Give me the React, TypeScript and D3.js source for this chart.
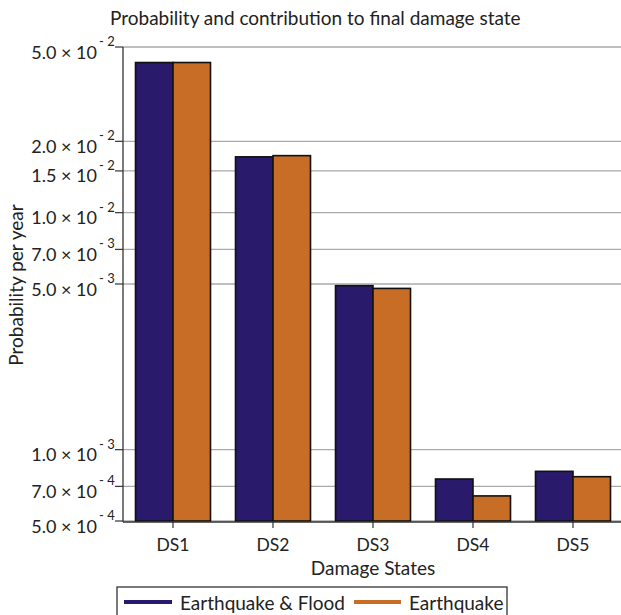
import React from "react";
import * as d3 from "d3";

const categories = ["DS1", "DS2", "DS3", "DS4", "DS5"];
const seriesNames = ["Earthquake & Flood", "Earthquake"];
const quakeFlood = [4.3e-2, 1.72e-2, 4.92e-3, 7.52e-4, 8.1e-4];
const quakeOnly = [4.3e-2, 1.74e-2, 4.79e-3, 6.38e-4, 7.69e-4];
const tickValues = [5e-2, 2e-2, 1.5e-2, 1e-2, 7e-3, 5e-3, 1e-3, 7e-4, 5e-4];

const W = 621;
const H = 615;
const FONT = "Lato, 'Open Sans', sans-serif";
const TEXT = "#222";
const COLORS = ["#291a6b", "#c76d26"];

const left = 123;
const right = 623;
const top = 47;
const bottom = 521;

function splitTick(v: number) {
  const exp = Math.floor(Math.log10(v) + 1e-9);
  const mant = v / Math.pow(10, exp);
  return { mant: mant.toFixed(1), exp: String(exp) };
}

export default function App() {
  const x = d3.scaleBand<string>().domain(categories).range([left, right]);
  const inner = d3
    .scaleBand<number>()
    .domain([0, 1])
    .range([0, x.bandwidth()])
    .paddingOuter(1 / 3);
  const y = d3.scaleLog().domain([5e-4, 5e-2]).range([bottom, top]);
  const series = [quakeFlood, quakeOnly];

  return (
    <svg
      width={W}
      height={H}
      style={{ position: "absolute", left: 0, top: 0, background: "#fff" }}
      fontFamily={FONT}
    >
      <text x={110} y={25} fontSize={19} fill={TEXT}>
        Probability and contribution to final damage state
      </text>

      {/* grid lines */}
      {tickValues.map((t) => (
        <line
          key={"g" + t}
          x1={left}
          x2={W}
          y1={y(t)}
          y2={y(t)}
          stroke="#aaa"
          strokeWidth={1.3}
        />
      ))}

      {/* bars */}
      {categories.map((c, i) => (
        <g key={c} transform={`translate(${x(c)},0)`}>
          {series.map((s, k) => (
            <rect
              key={k}
              x={inner(k)}
              y={y(s[i])}
              width={inner.bandwidth()}
              height={bottom - y(s[i])}
              fill={COLORS[k]}
              stroke="#111"
              strokeWidth={1.6}
            />
          ))}
        </g>
      ))}

      {/* y axis */}
      <line x1={left} x2={left} y1={top} y2={bottom + 1} stroke="#333" strokeWidth={1.3} />
      {tickValues.map((t) => {
        const { mant, exp } = splitTick(t);
        return (
          <g key={"t" + t} transform={`translate(0,${y(t)})`}>
            <line x1={115} x2={left} stroke="#333" strokeWidth={1.2} />
            <text x={97} y={11.5} textAnchor="end" fontSize={18} fill={TEXT}>
              {mant} × 10
            </text>
            <text x={99} y={-1} fontSize={13} fill={TEXT}>
              {exp.replace("-", "- ")}
            </text>
          </g>
        );
      })}
      <text
        transform={`translate(23,${(top + bottom) / 2 + 1}) rotate(-90)`}
        textAnchor="middle"
        fontSize={19}
        fill={TEXT}
      >
        Probability per year
      </text>

      {/* x axis */}
      <line x1={left} x2={W} y1={bottom + 1} y2={bottom + 1} stroke="#333" strokeWidth={1.3} />
      {categories.map((c) => {
        const cx = (x(c) as number) + x.bandwidth() / 2;
        return (
          <g key={"x" + c}>
            <line x1={cx} x2={cx} y1={bottom + 1} y2={bottom + 7} stroke="#333" strokeWidth={1.2} />
            <text x={cx} y={551} textAnchor="middle" fontSize={17.5} fill={TEXT}>
              {c}
            </text>
          </g>
        );
      })}
      <text x={(left + right) / 2} y={574.5} textAnchor="middle" fontSize={19} fill={TEXT}>
        Damage States
      </text>

      {/* legend */}
      <rect x={117} y={587} width={390} height={40} fill="#fff" stroke="#333" strokeWidth={1.3} />
      <line x1={124} x2={172} y1={602} y2={602} stroke={COLORS[0]} strokeWidth={4} />
      <text x={180} y={610} fontSize={19} fill={TEXT}>
        {seriesNames[0]}
      </text>
      <line x1={354} x2={401} y1={602} y2={602} stroke={COLORS[1]} strokeWidth={4} />
      <text x={409} y={610} fontSize={19} fill={TEXT}>
        {seriesNames[1]}
      </text>
    </svg>
  );
}
